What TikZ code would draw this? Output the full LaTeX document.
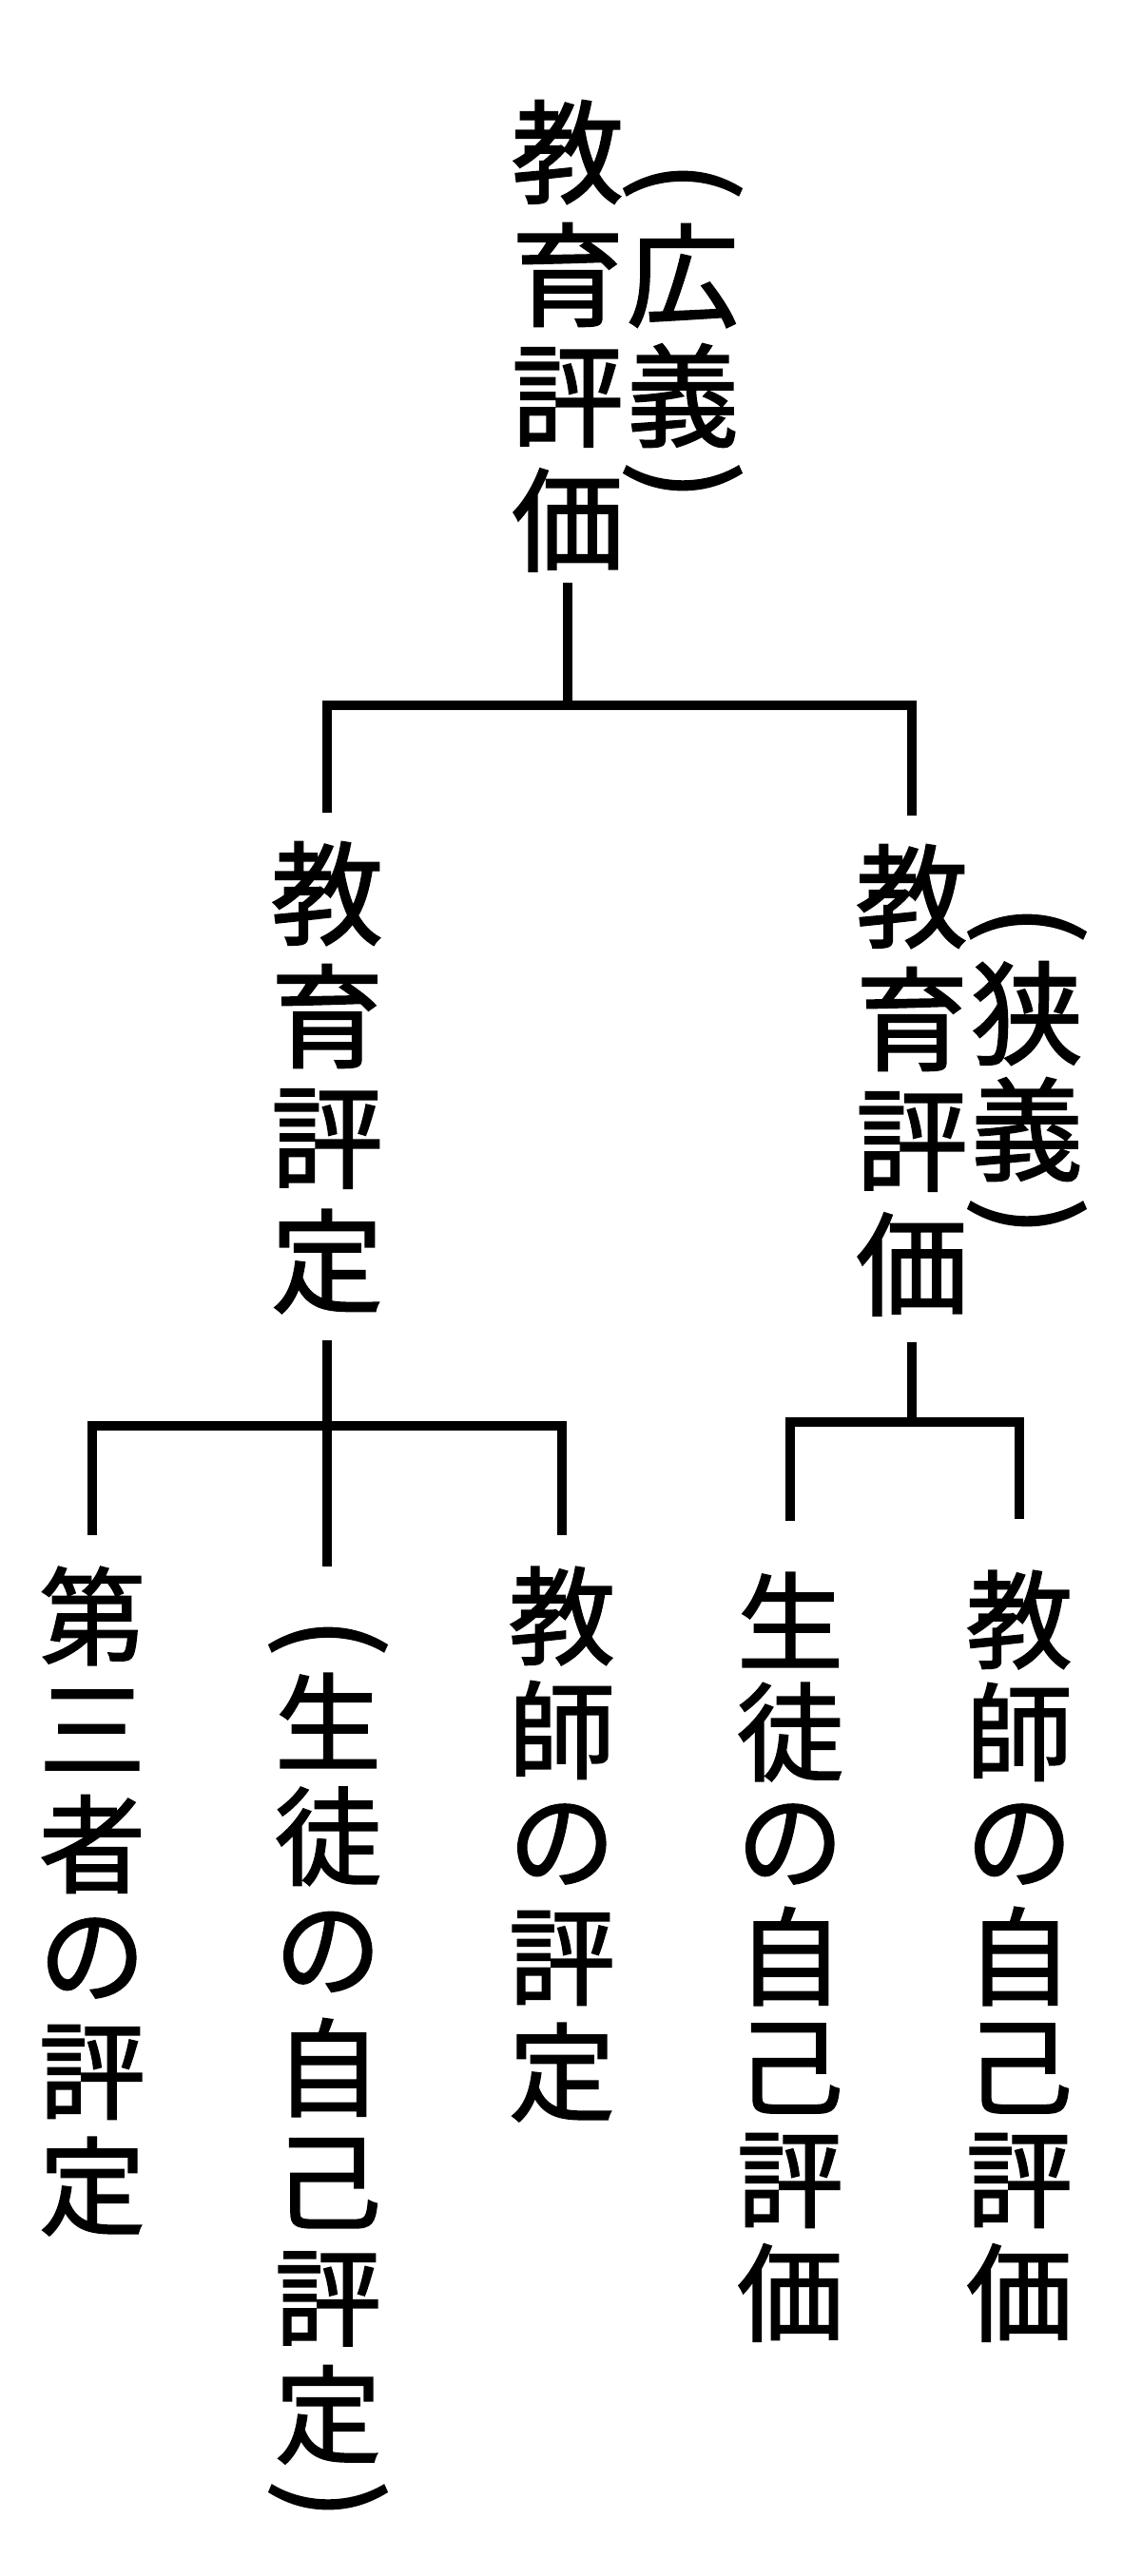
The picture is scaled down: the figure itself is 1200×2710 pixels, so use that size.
\documentclass[tikz,border=0pt]{standalone}
\usepackage{fontspec}
\newfontfamily\cjk{Noto Sans CJK JP}[FakeBold=1.6]
\begin{document}
\begin{tikzpicture}[x=1pt,y=-1pt,
  big/.style={inner sep=0pt,font=\cjk\fontsize{118}{118}\selectfont},
  sml/.style={inner sep=0pt,font=\cjk\fontsize{112}{112}\selectfont},
  par/.style={inner sep=0pt,rotate=-90,font=\cjk\fontsize{122}{122}\selectfont},
  conn/.style={line width=10pt,line cap=butt,line join=miter}]
\fill[white] (0,0) rectangle (1200,2710);
\useasboundingbox (0,0) rectangle (1200,2710);
% level 1
\foreach \c [count=\i from 0] in {教,育,評,価}
  \node[big] (r\i) at (597,160+129*\i) {\c};
\node[par] (rp0) at (718,190) {(};
\node[big] (rp1) at (718,290) {広};
\node[big] (rp2) at (718,416) {義};
\node[par] (rp3) at (718,506) {)};
% level 2
\foreach \c [count=\i from 0] in {教,育,評,定}
  \node[big] (l\i) at (344,940+129*\i) {\c};
\foreach \c [count=\i from 0] in {教,育,評,価}
  \node[big] (m\i) at (959,943+129*\i) {\c};
\node[par] (mp0) at (1080,972) {(};
\node[big] (mp1) at (1080,1066) {狭};
\node[big] (mp2) at (1080,1188) {義};
\node[par] (mp3) at (1080,1280) {)};
% level 3
\foreach \c [count=\i from 0] in {第,三,者,の,評,定}
  \node[sml] (a\i) at (97,1700+120*\i) {\c};
\node[par] (bp0) at (345,1722) {(};
\foreach \c [count=\i from 0] in {生,徒,の,自,己,評,定}
  \node[sml] (b\i) at (345,1810+121.7*\i) {\c};
\node[par] (bp1) at (345,2630) {)};
\foreach \c [count=\i from 0] in {教,師,の,評,定}
  \node[sml] (c\i) at (591,1700+120*\i) {\c};
\foreach \c [count=\i from 0] in {生,徒,の,自,己,評,価}
  \node[sml] (d\i) at (831,1704+118*\i) {\c};
\foreach \c [count=\i from 0] in {教,師,の,自,己,評,価}
  \node[sml] (e\i) at (1072,1704+118*\i) {\c};
% connectors
\coordinate (j0) at (597,742);
\draw[conn] ([yshift=-12pt]r3.south) -- (j0);
\draw[conn] ([yshift=30pt]l0.north) |- (j0) -| ([yshift=30pt]m0.north);
\coordinate (j1) at (344,1500);
\draw[conn] ([yshift=-28pt]l3.south) -- (j1);
\draw[conn] ([yshift=33pt]a0.north) |- (j1) -| ([yshift=33pt]c0.north);
\draw[conn] (j1) -- (j1 |- a0.north);
\coordinate (j2) at (959,1496);
\draw[conn] ([yshift=-28pt]m3.south) -- (j2);
\draw[conn] ([yshift=54pt]d0.north) |- (j2) -| ([yshift=54pt]e0.north);
\end{tikzpicture}
\end{document}
